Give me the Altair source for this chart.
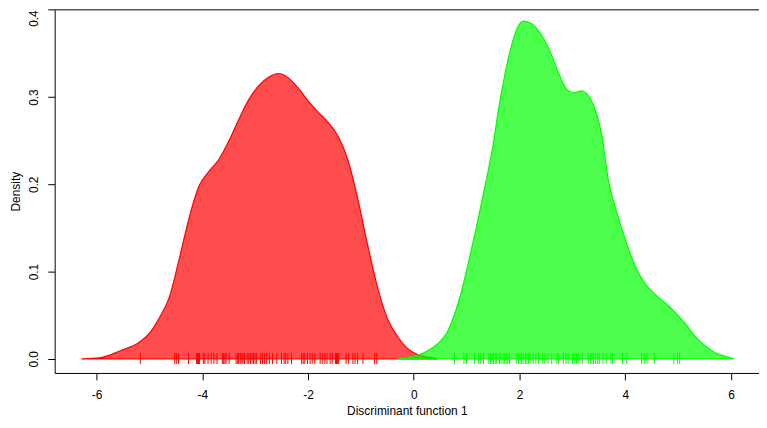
import altair as alt
import pandas as pd

# Density curves (x, density)
red_x = [-6.28, -5.94, -5.56, -5.19, -5.00, -4.81, -4.62, -4.44, -4.25, -4.06,
         -3.87, -3.68, -3.50, -3.31, -3.12, -2.93, -2.74, -2.56, -2.37, -2.18,
         -1.99, -1.81, -1.62, -1.43, -1.24, -1.05, -0.87, -0.68, -0.49, -0.30,
         -0.12, 0.07, 0.26, 0.45]
red_y = [0.000, 0.001, 0.009, 0.019, 0.029, 0.047, 0.071, 0.113, 0.161, 0.198,
         0.215, 0.229, 0.249, 0.274, 0.297, 0.313, 0.323, 0.327, 0.322, 0.310,
         0.295, 0.283, 0.271, 0.255, 0.227, 0.181, 0.130, 0.081, 0.045, 0.025,
         0.012, 0.005, 0.002, 0.000]

green_x = [-0.30, -0.12, 0.07, 0.26, 0.45, 0.63, 0.86, 1.09, 1.29, 1.48,
           1.63, 1.82, 1.95, 2.08, 2.23, 2.32, 2.51, 2.64, 2.75, 2.89,
           3.02, 3.17, 3.27, 3.36, 3.55, 3.68, 3.83, 4.01, 4.20, 4.39,
           4.58, 4.76, 4.95, 5.14, 5.32, 5.51, 5.70, 5.88, 6.06]
green_y = [0.000, 0.001, 0.004, 0.009, 0.017, 0.030, 0.068, 0.125, 0.181, 0.238,
           0.295, 0.352, 0.378, 0.387, 0.384, 0.379, 0.361, 0.343, 0.326, 0.309,
           0.305, 0.307, 0.304, 0.296, 0.258, 0.205, 0.170, 0.135, 0.105, 0.085,
           0.073, 0.064, 0.053, 0.040, 0.026, 0.015, 0.007, 0.003, 0.000]

# Rug positions
red_rug = [-5.17, -4.52, -4.49, -4.45, -4.26, -4.11, -4.09, -4.07, -4.05, -3.98,
           -3.95, -3.89, -3.83, -3.78, -3.72, -3.62, -3.60, -3.57, -3.55, -3.49,
           -3.36, -3.33, -3.31, -3.28, -3.25, -3.23, -3.20, -3.15, -3.12, -3.09,
           -3.06, -3.03, -3.00, -2.97, -2.90, -2.86, -2.82, -2.78, -2.73, -2.67,
           -2.59, -2.50, -2.45, -2.42, -2.38, -2.31, -2.12, -2.09, -2.06, -2.01,
           -1.96, -1.92, -1.87, -1.77, -1.73, -1.68, -1.64, -1.58, -1.54, -1.48,
           -1.46, -1.44, -1.42, -1.28, -1.23, -1.15, -1.11, -1.06, -0.96, -0.74,
           -0.70]
green_rug = [0.77, 0.95, 1.00, 1.15, 1.23, 1.26, 1.32, 1.42, 1.45, 1.48,
             1.51, 1.54, 1.57, 1.62, 1.65, 1.69, 1.72, 1.75, 1.78, 1.81,
             1.95, 1.98, 2.01, 2.04, 2.07, 2.11, 2.14, 2.17, 2.20, 2.26,
             2.31, 2.36, 2.44, 2.48, 2.54, 2.61, 2.71, 2.74, 2.83, 2.88,
             2.92, 3.00, 3.03, 3.05, 3.08, 3.11, 3.19, 3.30, 3.34, 3.37,
             3.40, 3.44, 3.48, 3.51, 3.58, 3.64, 3.73, 3.76, 3.95, 4.03,
             4.31, 4.36, 4.41, 4.55, 4.92, 4.99, 5.03]

x_ticks = [-6, -4, -2, 0, 2, 4, 6]
y_ticks = [0.0, 0.1, 0.2, 0.3, 0.4]

FONT = "Liberation Sans"

red_df = pd.DataFrame({"x": red_x, "y": red_y})
green_df = pd.DataFrame({"x": green_x, "y": green_y})
red_rug_df = pd.DataFrame({"x": red_rug})
green_rug_df = pd.DataFrame({"x": green_rug})

xscale = alt.Scale(domain=[-6.79, 6.53], nice=False, zero=False)
yscale = alt.Scale(domain=[-0.0162, 0.4005], nice=False, zero=False)

xaxis = alt.Axis(values=x_ticks, title="Discriminant function 1",
                 labelExpr="toString(datum.value)", labelPadding=10,
                 titleY=38, titleBaseline="middle")
yaxis = alt.Axis(values=y_ticks, title="Density", format=".1f",
                 labelAngle=270, labelPadding=7,
                 labelAlign={"condition": {"test": "datum.value > 0.35", "value": "right"},
                             "value": "center"},
                 labelBaseline="bottom",
                 titleX=-39, titleAngle=270, titleBaseline="middle", titleAlign="center")

xenc = alt.X("x:Q", scale=xscale, axis=xaxis)
yenc = alt.Y("y:Q", scale=yscale, axis=yaxis)

red_area = alt.Chart(red_df).mark_area(
    color="#FF0000", fillOpacity=0.7, stroke="#FF0000", strokeWidth=1.2,
    interpolate="monotone"
).encode(x=xenc, y=yenc, y2=alt.datum(0))

green_area = alt.Chart(green_df).mark_area(
    color="#00FF00", fillOpacity=0.7, stroke="#00FF00", strokeWidth=1.2,
    interpolate="monotone"
).encode(x=xenc, y=yenc, y2=alt.datum(0))

rug_y = alt.Y(datum=0.0065, type="quantitative", scale=yscale, axis=yaxis)
rug_y2 = alt.Y2(datum=-0.006)

red_rug_layer = alt.Chart(red_rug_df).mark_rule(color="#FF0000", strokeWidth=1).encode(
    x=xenc, y=rug_y, y2=rug_y2)
green_rug_layer = alt.Chart(green_rug_df).mark_rule(color="#00FF00", strokeWidth=1).encode(
    x=xenc, y=rug_y, y2=rug_y2)

chart = alt.layer(red_area, green_area, red_rug_layer, green_rug_layer).properties(
    width=709, height=366,
    autosize=alt.AutoSizeParams(type="none"),
    padding={"left": 47, "top": 0, "right": 0, "bottom": 46},
).configure_view(
    stroke="black", strokeWidth=1
).configure_axis(
    grid=False, domain=False, ticks=True, tickSize=7, tickColor="black",
    labelFont=FONT, labelFontSize=12, labelColor="black",
    titleFont=FONT, titleFontSize=12, titleColor="black", titleFontWeight="normal",
)

chart.save("out.html", embed_options={"renderer": "svg", "actions": False})
